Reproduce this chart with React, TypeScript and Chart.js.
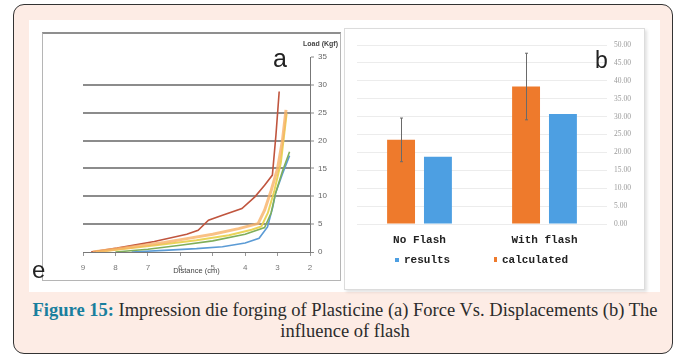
import React, { useEffect, useRef } from 'react';
import { Chart, registerables } from 'chart.js';

Chart.register(...registerables);

// ---------- Chart (a): Force vs. displacement ----------
const distanceTicks = [9, 8, 7, 6, 5, 4, 3, 2];
const loadTicks = [0, 5, 10, 15, 20, 25, 30, 35];

const redDist = [8.75, 7.95, 6.8, 5.8, 5.45, 5.13, 4.7, 4.1, 3.7, 3.4, 3.16, 3.05, 2.95];
const redLoad = [0, 0.7, 1.9, 3.2, 3.9, 5.7, 6.6, 7.8, 9.9, 12, 13.8, 21, 28.8];

const orangeDist = [8.7, 7.5, 6.5, 5.8, 5, 4.2, 3.6, 3.4, 3.2, 3.0, 2.85, 2.74];
const orangeLoad = [0, 0.9, 1.7, 2.4, 3.2, 4.2, 5.1, 7.5, 11, 15, 20, 25.5];

const yellowDist = [8.6, 7.5, 6.5, 5.5, 4.5, 3.8, 3.5, 3.3, 3.1, 2.9, 2.72];
const yellowLoad = [0, 0.7, 1.4, 2.1, 3.0, 4.0, 4.6, 7, 11, 16, 24.9];

const greenDist = [8.0, 7, 6, 5, 4, 3.4, 3.2, 3.06, 2.85, 2.63];
const greenLoad = [0, 0.5, 1.2, 2.0, 3.2, 4.4, 7, 10.6, 14.5, 18];

const blueDist = [7.5, 6.5, 5.5, 4.7, 4.0, 3.57, 3.31, 3.15, 3.06, 2.85, 2.63];
const blueLoad = [0, 0.3, 0.6, 0.95, 1.6, 2.45, 4.5, 8, 10.6, 14, 17.3];

// ---------- Chart (b): influence of flash ----------
const categories = ['No Flash', 'With flash'];
const calculated = [23.5, 38.4];
const calculatedError = [6.1, 9.3];
const results = [18.8, 30.7];
const forceTicks = [0, 5, 10, 15, 20, 25, 30, 35, 40, 45, 50];

const toPoints = (xs: number[], ys: number[]) => xs.map((x, i) => ({ x, y: ys[i] }));

const errorBarPlugin = {
  id: 'errorBars',
  afterDatasetsDraw(chart: any) {
    const meta = chart.getDatasetMeta(0);
    const y = chart.scales.y;
    const ctx = chart.ctx;
    ctx.save();
    ctx.strokeStyle = '#6a6a6a';
    ctx.lineWidth = 1;
    meta.data.forEach((bar: any, i: number) => {
      const v = calculated[i];
      const e = calculatedError[i];
      const x = Math.round(bar.x) + 0.5;
      const top = y.getPixelForValue(v + e);
      const bot = y.getPixelForValue(v - e);
      ctx.beginPath();
      ctx.moveTo(x, top);
      ctx.lineTo(x, bot);
      ctx.moveTo(x - 1.5, top);
      ctx.lineTo(x + 1.5, top);
      ctx.moveTo(x - 1.5, bot);
      ctx.lineTo(x + 1.5, bot);
      ctx.stroke();
    });
    ctx.restore();
  },
};

export default function App() {
  const refA = useRef<HTMLCanvasElement>(null);
  const refB = useRef<HTMLCanvasElement>(null);

  useEffect(() => {
    const lineDs = (label: string, xs: number[], ys: number[], color: string, width: number) => ({
      label,
      data: toPoints(xs, ys),
      borderColor: color,
      backgroundColor: color,
      borderWidth: width,
      pointRadius: 0,
      tension: 0,
      fill: false,
    });

    const chartA = new Chart(refA.current!, {
      type: 'line',
      data: {
        datasets: [
          lineDs('orange', orangeDist, orangeLoad, 'rgba(247,178,103,0.8)', 3),
          lineDs('yellow', yellowDist, yellowLoad, 'rgba(232,210,80,0.95)', 2),
          lineDs('green', greenDist, greenLoad, '#7fae5a', 1.6),
          lineDs('blue', blueDist, blueLoad, '#5b9bd5', 1.6),
          lineDs('red', redDist, redLoad, '#c0553e', 1.6),
        ],
      },
      options: {
        animation: false,
        responsive: false,
        layout: { padding: { left: 40, top: 25, right: 0, bottom: 0 } },
        plugins: { legend: { display: false }, tooltip: { enabled: false } },
        scales: {
          x: {
            type: 'linear',
            reverse: true,
            min: 2,
            max: 9,
            position: 'bottom',
            afterBuildTicks: (s: any) => {
              s.ticks = distanceTicks.map((v) => ({ value: v }));
            },
            ticks: { font: { size: 8, family: 'Liberation Sans' }, color: '#777', padding: 7, maxRotation: 0 },
            grid: { drawOnChartArea: false, tickLength: 4, color: '#999' },
            border: { color: '#777' },
            title: {
              display: true,
              text: 'Distance (cm)',
              font: { size: 7.5, family: 'Liberation Sans' },
              color: '#444',
              padding: { top: 0, bottom: 5 },
            },
            afterFit: (s: any) => {
              s.height = 28;
            },
          },
          y: {
            position: 'right',
            min: 0,
            max: 35,
            afterBuildTicks: (s: any) => {
              s.ticks = loadTicks.map((v) => ({ value: v }));
            },
            ticks: { font: { size: 8, family: 'Liberation Sans' }, color: '#666', padding: 4 },
            grid: {
              color: (c: any) =>
                c.tick && c.tick.value === 35 ? 'rgba(0,0,0,0)' : c.tick && c.tick.value === 0 ? '#999' : '#8c8c8c',
              lineWidth: (c: any) => (c.tick && c.tick.value === 0 ? 1 : 2),
              tickLength: 4,
              tickColor: '#888',
              tickWidth: 1,
            },
            border: { color: '#777', width: 1 },
            afterFit: (s: any) => {
              s.width = 30;
            },
          },
        },
      },
    } as any);

    const chartB = new Chart(refB.current!, {
      type: 'bar',
      data: {
        labels: categories,
        datasets: [
          {
            label: 'calculated',
            data: calculated,
            backgroundColor: '#ee7a2c',
            barPercentage: 0.757,
            categoryPercentage: 0.59,
          },
          {
            label: 'results',
            data: results,
            backgroundColor: '#4d9fe2',
            barPercentage: 0.757,
            categoryPercentage: 0.59,
          },
        ],
      },
      options: {
        animation: false,
        responsive: false,
        layout: { padding: { left: 13, top: 17, right: 0, bottom: 0 } },
        plugins: { legend: { display: false }, tooltip: { enabled: false } },
        scales: {
          x: {
            grid: { display: false, drawTicks: false },
            border: { display: false },
            ticks: {
              font: { family: 'Liberation Mono', size: 11, weight: 'bold' },
              color: '#222',
              padding: 10,
            },
            afterFit: (s: any) => {
              s.height = 66;
            },
          },
          y: {
            position: 'right',
            min: 0,
            max: 50,
            afterBuildTicks: (s: any) => {
              s.ticks = forceTicks.map((v) => ({ value: v }));
            },
            ticks: {
              callback: (v: any) => Number(v).toFixed(2),
              font: { size: 7.5, family: 'Liberation Sans Narrow' },
              color: '#9a9a9a',
              padding: 7,
            },
            grid: { color: '#ececec', drawTicks: false },
            border: { display: false },
            afterFit: (s: any) => {
              s.width = 38;
            },
          },
        },
      },
      plugins: [errorBarPlugin],
    } as any);

    return () => {
      chartA.destroy();
      chartB.destroy();
    };
  }, []);

  const abs = (o: React.CSSProperties): React.CSSProperties => ({ position: 'absolute', ...o });

  return (
    <div style={abs({ left: 0, top: 0, width: 677, height: 358, overflow: 'hidden', background: '#fff' })}>
      {/* outer box */}
      <div
        style={abs({
          left: 13,
          top: 4,
          width: 660,
          height: 350,
          boxSizing: 'border-box',
          border: '1.5px solid #333',
          borderRadius: 11,
          background: '#fdece5',
        })}
      />
      {/* white image area */}
      <div style={abs({ left: 29, top: 20, width: 631, height: 272, background: '#fff' })} />
      {/* left panel frame */}
      <div
        style={abs({
          left: 42,
          top: 32,
          width: 299,
          height: 249,
          boxSizing: 'border-box',
          borderTop: '2px solid #8f8f8f',
          borderLeft: '1px solid #b5b5b5',
          borderRight: '1px solid #b5b5b5',
          borderBottom: '1px solid #b5b5b5',
        })}
      />
      {/* right panel frame */}
      <div
        style={abs({
          left: 344,
          top: 28,
          width: 301,
          height: 262,
          boxSizing: 'border-box',
          border: '1px solid #dcdcdc',
          boxShadow: '2px 2px 3px rgba(0,0,0,0.12)',
        })}
      />
      <canvas ref={refA} width={297} height={248} style={abs({ left: 43, top: 32 })} />
      <canvas ref={refB} width={301} height={262} style={abs({ left: 344, top: 28 })} />

      {/* panel labels */}
      <div style={abs({ left: 303, top: 40, font: 'bold 7px "Liberation Sans Narrow", "Liberation Sans", sans-serif', color: '#444', whiteSpace: 'nowrap' })}>
        Load (Kgf)
      </div>
      <div style={abs({ left: 273, top: 44, font: '25px "Liberation Sans Narrow", "Liberation Sans", sans-serif', color: '#222', lineHeight: '28px' })}>a</div>
      <div style={abs({ left: 595, top: 47, font: '23px "Liberation Sans Narrow", "Liberation Sans", sans-serif', color: '#222', lineHeight: '26px' })}>b</div>
      <div style={abs({ left: 32, top: 256, font: '24px "Liberation Sans Narrow", "Liberation Sans", sans-serif', color: '#222', lineHeight: '28px' })}>e</div>

      {/* legend of (b) */}
      <div style={abs({ left: 395, top: 258, width: 4, height: 4, background: '#4d9fe2' })} />
      <div style={abs({ left: 404, top: 253, font: 'bold 11px "Liberation Mono", monospace', color: '#222', lineHeight: '14px', whiteSpace: 'nowrap' })}>results</div>
      <div style={abs({ left: 494, top: 257, width: 3, height: 5, background: '#ee7a2c' })} />
      <div style={abs({ left: 502, top: 253, font: 'bold 11px "Liberation Mono", monospace', color: '#222', lineHeight: '14px', whiteSpace: 'nowrap' })}>calculated</div>

      {/* caption */}
      <div
        style={abs({
          left: 13,
          top: 300,
          width: 664,
          textAlign: 'center',
          font: '18.5px/21px "Liberation Serif", serif',
          color: '#2b2b2b',
          whiteSpace: 'nowrap',
        })}
      >
        <span style={{ color: '#1a7f9e', fontWeight: 'bold' }}>Figure 15:</span> Impression die forging of Plasticine (a) Force Vs. Displacements (b) The
        <br />
        influence of flash
      </div>
    </div>
  );
}
